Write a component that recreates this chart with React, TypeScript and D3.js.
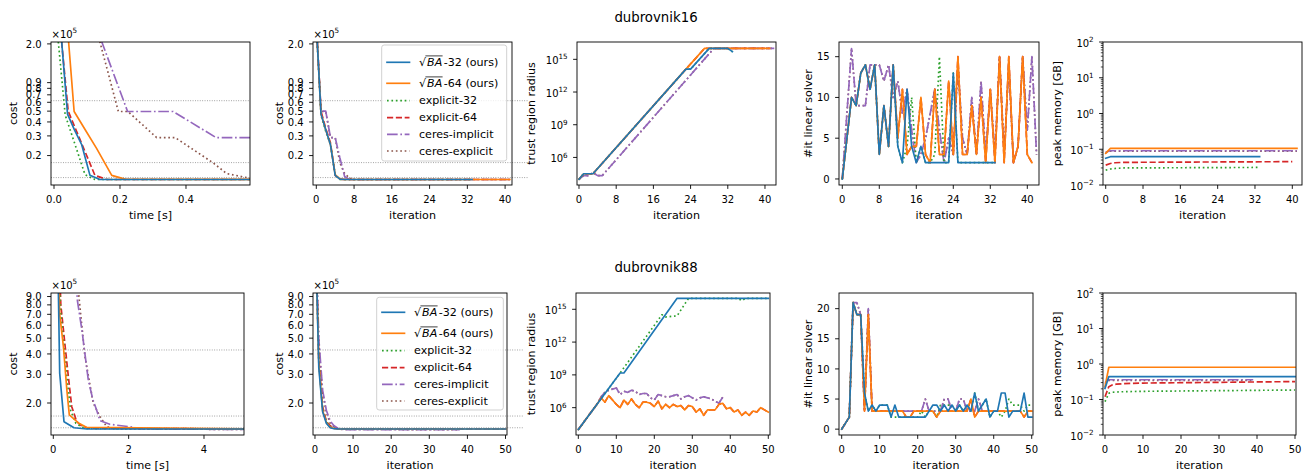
import React from "react";
import * as d3 from "d3";

type Pt = [number, number];

// ---------------- series styling (legend order) ----------------
const seriesKeys = ["s32", "s64", "e32", "e64", "ci", "ce"];
const seriesLabels = ["-32 (ours)", "-64 (ours)", "explicit-32", "explicit-64", "ceres-implicit", "ceres-explicit"];
const seriesColors = ["#1f77b4", "#ff7f0e", "#2ca02c", "#d62728", "#9467bd", "#8c564b"];
const seriesDash = ["", "", "1.67,2.75", "6.17,2.67", "10.67,2.67,1.67,2.67", "1.67,2.75"];
const LW = 1.67;

// ---------------- dubrovnik16 ----------------
// cost (x1e5) vs time [s]
const d16TimeS32 = [0.019, 0.041, 0.062, 0.084, 0.109, 0.139, 0.7];
const d16CostTS32 = [3.0, 0.47, 0.34, 0.25, 0.133, 0.122, 0.122];
const d16TimeS64 = [0.04, 0.061, 0.095, 0.129, 0.175, 0.215, 0.9];
const d16CostTS64 = [3.0, 0.496, 0.339, 0.232, 0.133, 0.123, 0.122];
const d16TimeE32 = [0.008, 0.034, 0.064, 0.094, 0.124, 0.7];
const d16CostTE32 = [3.0, 0.46, 0.25, 0.135, 0.122, 0.122];
const d16TimeE64 = [0.018, 0.043, 0.083, 0.124, 0.16, 0.8];
const d16CostTE64 = [3.0, 0.5, 0.26, 0.133, 0.122, 0.122];
const d16TimeCI = [0.125, 0.223, 0.361, 0.491, 0.75];
const d16CostTCI = [3.0, 0.496, 0.496, 0.29, 0.29];
const d16TimeCE = [0.125, 0.195, 0.224, 0.311, 0.367, 0.483, 0.523, 0.589, 0.62, 0.9];
const d16CostTCE = [3.0, 0.496, 0.496, 0.29, 0.29, 0.1715, 0.138, 0.126, 0.122, 0.122];
// cost (x1e5) vs iteration  [iteration, cost]
const d16CostIS32: Pt[] = [[0, 3.0], [1, 0.47], [2, 0.34], [3, 0.25], [4, 0.133], [5, 0.123], [6, 0.122], [33, 0.122]];
const d16CostIS64: Pt[] = [[0, 3.0], [1, 0.47], [2, 0.34], [3, 0.25], [4, 0.135], [5, 0.123], [6, 0.122], [41, 0.122]];
const d16CostIE32: Pt[] = [[0, 3.0], [1, 0.46], [2, 0.33], [3, 0.25], [4, 0.135], [5, 0.122], [33, 0.122]];
const d16CostIE64: Pt[] = [[0, 3.0], [1, 0.5], [2, 0.35], [3, 0.26], [4, 0.133], [5, 0.123], [6, 0.122], [41, 0.122]];
const d16CostICI: Pt[] = [[0, 3.0], [1, 0.5], [2, 0.5], [3, 0.29], [4, 0.29], [5, 0.19], [6, 0.13], [7, 0.122], [41, 0.122]];
const d16CostICE: Pt[] = [[0, 3.0], [1, 0.496], [2, 0.496], [3, 0.29], [4, 0.29], [5, 0.1715], [6, 0.138], [7, 0.126], [8, 0.122], [41, 0.122]];
// log10(trust region radius) vs iteration
const d16TrS32: Pt[] = [[0, 4.0], [1, 4.5], [3, 4.5], [23, 14.1], [24, 14.1], [28, 16.0], [32, 16.0], [33, 15.7]];
const d16TrS64: Pt[] = [[0, 4.0], [1, 4.5], [3, 4.5], [23, 14.1], [27, 16.0], [41, 16.0]];
const d16TrE32: Pt[] = [[0, 4.0], [1, 4.5], [3, 4.5], [23, 14.1], [24, 14.1], [28, 16.0], [32, 16.0], [33, 15.7]];
const d16TrE64: Pt[] = [[0, 4.0], [1, 4.5], [3, 4.5], [23, 14.1], [27, 16.0], [41, 16.0]];
const d16TrCI: Pt[] = [[0, 4.0], [1, 4.33], [2, 4.33], [3, 4.6], [4, 4.33], [5, 4.33], [29, 16.0], [42, 16.0]];
const d16TrCE: Pt[] = [[0, 4.0], [1, 4.33], [2, 4.33], [3, 4.6], [4, 4.33], [5, 4.33], [29, 16.0], [42, 16.0]];
// linear solver iterations per iteration
const d16LinS32 = [0, 5, 10, 9, 13, 14, 11, 14, 3, 9, 4, 14, 4, 2, 11, 4, 2, 4, 2, 2, 2, 2, 2, 2, 13, 2, 2, 2, 2, 2, 2, 2, 2, 2];
const d16LinS64 = [0, 5, 10, 9, 13, 14, 11, 14, 3, 9, 4, 14, 5, 11, 3, 4, 4, 10, 3, 2, 11, 3, 3, 12, 3, 15, 3, 3, 9, 3, 10, 2, 11, 2, 15, 2, 15, 2, 4, 15, 3, 2];
const d16LinE32 = [0, 5, 10, 9, 13, 14, 11, 14, 3, 9, 4, 14, 4, 2, 4, 10, 2, 4, 2, 2, 3, 15, 2, 2, 13, 2, 2, 2, 2, 2, 2, 2, 2, 2];
const d16LinE64 = [0, 5, 10, 9, 13, 14, 11, 14, 3, 9, 4, 14, 5, 11, 3, 4, 4, 10, 3, 2, 11, 3, 3, 12, 3, 15, 3, 3, 9, 3, 10, 2, 11, 2, 15, 2, 15, 2, 4, 15, 3, 2];
const d16LinCI = [0, 8, 16, 9, 9, 9, 14, 14, 14, 12, 14, 10, 12, 8, 11, 6, 2, 3, 5, 8, 11, 6, 2, 5, 3, 14, 5, 3, 10, 3, 12, 3, 11, 3, 15, 3, 14, 2, 4, 15, 6, 15, 3];
const d16LinCE = [0, 8, 16, 9, 9, 9, 14, 14, 14, 12, 14, 10, 12, 8, 11, 6, 2, 3, 5, 8, 11, 6, 2, 5, 3, 14, 5, 3, 10, 3, 12, 3, 11, 3, 15, 3, 14, 2, 4, 15, 6, 15, 3];
// peak memory [GB]
const d16MemS32: Pt[] = [[0, 0.056], [1, 0.062], [33, 0.062]];
const d16MemS64: Pt[] = [[0, 0.077], [1, 0.106], [41, 0.106]];
const d16MemE32: Pt[] = [[0, 0.026], [1, 0.028], [2, 0.029], [4, 0.03], [33, 0.031]];
const d16MemE64: Pt[] = [[0, 0.036], [1, 0.04], [2, 0.042], [4, 0.043], [40, 0.045]];
const d16MemCI: Pt[] = [[0, 0.083], [1, 0.091], [41, 0.091]];
const d16MemCE: Pt[] = [[0, 0.08], [1, 0.089], [41, 0.089]];

// ---------------- dubrovnik88 ----------------
const d88TimeS32 = [0.1, 0.17, 0.284, 0.55, 0.89, 5.3];
const d88CostTS32 = [30, 3.04, 1.536, 1.41, 1.386, 1.386];
const d88TimeS64 = [0.1, 0.17, 0.27, 0.36, 0.425, 0.667, 0.88, 5.3];
const d88CostTS64 = [30, 7.0, 4.4, 2.4, 1.69, 1.51, 1.42, 1.386];
const d88TimeE32 = [0.11, 0.19, 0.28, 0.38, 0.46, 0.6, 0.75, 0.9, 5.3];
const d88CostTE32 = [30, 7.5, 4.5, 2.6, 1.8, 1.5, 1.43, 1.395, 1.386];
const d88TimeE64 = [0.12, 0.2, 0.3, 0.4, 0.49, 0.62, 0.75, 0.93, 5.3];
const d88CostTE64 = [30, 8.0, 4.8, 2.9, 1.9, 1.54, 1.45, 1.4, 1.386];
const d88TimeCI = [0.5, 0.64, 0.76, 0.84, 0.93, 1.05, 1.15, 1.24, 1.5, 2.04, 2.3, 5.3];
const d88CostTCI = [30, 8.5, 5.6, 4.0, 2.76, 2.1, 1.81, 1.56, 1.48, 1.43, 1.39, 1.375];
const d88TimeCE = [0.55, 0.68, 0.84, 1.06, 1.24, 1.42, 1.68, 5.3];
const d88CostTCE = [30, 9.0, 3.85, 2.0, 1.65, 1.43, 1.39, 1.375];
const d88CostIS32: Pt[] = [[0, 30], [1, 3.3], [2, 1.77], [3, 1.5], [4, 1.41], [5, 1.39], [6, 1.387], [50, 1.386]];
const d88CostIS64: Pt[] = [[0, 30], [1, 3.5], [2, 1.8], [3, 1.52], [4, 1.42], [5, 1.395], [6, 1.388], [50, 1.386]];
const d88CostIE32: Pt[] = [[0, 30], [1, 3.6], [2, 1.85], [3, 1.53], [4, 1.43], [5, 1.4], [6, 1.39], [50, 1.386]];
const d88CostIE64: Pt[] = [[0, 30], [1, 3.7], [2, 1.9], [3, 1.54], [4, 1.45], [5, 1.4], [6, 1.39], [50, 1.386]];
const d88CostICI: Pt[] = [[0, 30], [1, 5.0], [2, 2.4], [3, 1.8], [4, 1.55], [5, 1.45], [6, 1.4], [7, 1.38], [8, 1.375], [38, 1.372]];
const d88CostICE: Pt[] = [[0, 30], [1, 4.6], [2, 2.3], [3, 1.75], [4, 1.5], [5, 1.43], [6, 1.39], [7, 1.378], [38, 1.372]];
const d88TrS32: Pt[] = [[0, 4.0], [11, 9.17], [12, 9.17], [26, 16.0], [50, 16.0]];
const d88TrE32: Pt[] = [[0, 4.0], [11, 9.17], [22, 14.5], [23, 14.3], [26, 14.4], [29, 16.0], [42, 16.0], [43, 15.8], [44, 16.0], [50, 16.0]];
const d88TrS64 = [4.0, 4.47, 4.94, 5.41, 5.88, 6.35, 6.9, 6.5, 7.1, 6.7, 6.3, 6.0, 6.7, 6.3, 6.8, 6.3, 6.0, 6.5, 6.5, 6.4, 6.1, 6.6, 5.9, 6.3, 6.0, 6.3, 6.1, 6.2, 5.8, 6.2, 6.1, 5.6, 5.9, 5.3, 5.8, 5.8, 5.8, 6.3, 6.4, 5.9, 6.0, 5.6, 5.8, 5.3, 5.6, 5.3, 5.7, 5.6, 6.0, 5.8, 5.6];
const d88TrE64 = [4.0, 4.47, 4.94, 5.41, 5.88, 6.35, 6.9, 6.5, 7.1, 6.7, 6.3, 6.0, 6.7, 6.3, 6.8, 6.3, 6.0, 6.5, 6.5, 6.4, 6.1, 6.6, 5.9, 6.3, 6.0, 6.3, 6.1, 6.2, 5.8, 6.2, 6.1, 5.6, 5.9, 5.3, 5.8, 5.8, 5.8, 6.3, 6.4, 5.9, 6.0, 5.6, 5.8, 5.3, 5.6, 5.3, 5.7, 5.6, 6.0, 5.8, 5.6];
const d88TrCI = [4.0, 4.47, 4.94, 5.41, 5.88, 6.35, 7.0, 7.4, 7.6, 7.7, 7.8, 7.2, 7.5, 7.4, 7.6, 7.5, 7.2, 7.3, 7.3, 6.9, 6.7, 7.2, 7.1, 7.0, 7.0, 7.1, 7.2, 6.8, 7.0, 7.1, 6.9, 6.7, 6.9, 7.0, 6.9, 6.8, 6.6, 6.4, 6.95];
const d88TrCE = [4.0, 4.47, 4.94, 5.41, 5.88, 6.35, 7.0, 7.4, 7.6, 7.7, 7.8, 7.2, 7.5, 7.4, 7.6, 7.5, 7.2, 7.3, 7.3, 6.9, 6.7, 7.2, 7.1, 7.0, 7.0, 7.1, 7.2, 6.8, 7.0, 7.1, 6.9, 6.7, 6.9, 7.0, 6.9, 6.8, 6.6, 6.4, 6.95];
const d88LinS32 = [0, 1, 2, 21, 19, 19, 6, 3, 4, 3, 4, 4, 4, 2, 4, 2, 2, 2, 2, 2, 2, 2, 2, 3, 4, 4, 3, 4, 3, 4, 3, 4, 3, 4, 3, 6, 3, 4, 5, 2, 3, 3, 6, 6, 2, 3, 3, 3, 6, 2, 2];
const d88LinS64 = [0, 1, 2, 21, 19, 19, 3, 19, 3, 3, 3, 3, 3, 3, 3, 3, 3, 2, 2, 3, 3, 3, 3, 3, 3, 2, 3, 3, 3, 3, 3, 3, 3, 3, 5, 2, 3, 3, 3, 3, 3, 3, 3, 3, 3, 3, 3, 3, 2, 3, 3];
const d88LinE32 = [0, 1, 2, 21, 19, 19, 6, 3, 4, 3, 4, 4, 4, 2, 2, 2, 2, 2, 2, 2, 2, 3, 2, 3, 3, 2, 4, 4, 4, 4, 3, 4, 3, 4, 3, 6, 3, 4, 5, 2, 3, 3, 2, 3, 5, 4, 4, 4, 3, 4, 4];
const d88LinE64 = [0, 1, 2, 21, 19, 19, 3, 19, 3, 3, 3, 3, 3, 3, 3, 3, 3, 2, 2, 3, 3, 3, 3, 3, 3, 2, 3, 3, 3, 3, 3, 3, 3, 3, 5, 2, 3, 3, 3, 3, 3, 3, 3, 3, 3, 3, 3, 3, 2, 3, 3];
const d88LinCI = [0, 1, 2, 21, 21, 19, 3, 20, 3, 3, 3, 3, 3, 3, 3, 3, 3, 3, 3, 3, 3, 3, 5, 3, 3, 3, 3, 5, 5, 3, 3, 5, 5, 3, 3, 3, 5, 3];
const d88LinCE = [0, 1, 2, 21, 21, 19, 3, 20, 3, 3, 3, 3, 3, 3, 3, 3, 3, 3, 3, 3, 3, 3, 5, 3, 3, 3, 3, 5, 5, 3, 3, 5, 5, 3, 3, 3, 5, 3];
const d88MemS32: Pt[] = [[0, 0.206], [1, 0.44], [50, 0.44]];
const d88MemS64: Pt[] = [[0, 0.23], [1, 0.81], [50, 0.81]];
const d88MemE32: Pt[] = [[0, 0.087], [1, 0.15], [2, 0.16], [4, 0.165], [10, 0.17], [50, 0.185]];
const d88MemE64: Pt[] = [[0, 0.12], [1, 0.23], [2, 0.26], [3, 0.27], [5, 0.28], [10, 0.29], [50, 0.32]];
const d88MemCI: Pt[] = [[0, 0.3], [1, 0.36], [39, 0.36]];
const d88MemCE: Pt[] = [[0, 0.28], [1, 0.345], [39, 0.345]];

// reference (threshold) levels on cost axes, x1e5
const d16CostRefs = [0.62, 0.173, 0.127];
const d88CostRefs = [4.23, 1.664, 1.41];

// ticks
const costTicks16 = [0.2, 0.3, 0.4, 0.5, 0.6, 0.7, 0.8, 0.9, 2.0];
const costTicks88 = [2, 3, 4, 5, 6, 7, 8, 9];
const trExpTicks = [6, 9, 12, 15];
const memExpTicks = [-2, -1, 0, 1, 2];
const linTicks16 = [0, 5, 10, 15];
const linTicks88 = [0, 5, 10, 15, 20];
const iterTicks16 = [0, 8, 16, 24, 32, 40];
const iterTicks88 = [0, 10, 20, 30, 40, 50];
const timeTicks16 = [0, 0.2, 0.4];
const timeTicks88 = [0, 2, 4];
const titles = ["dubrovnik16", "dubrovnik88"];

// ---------------- helpers ----------------
const idxPts = (v: number[]): Pt[] => v.map((y, i) => [i, y]);
const zipPts = (xs: number[], ys: number[]): Pt[] => xs.map((x, i) => [x, ys[i]]);
const pow10 = (p: Pt[]): Pt[] => p.map(([x, l]) => [x, Math.pow(10, l)]);
const asPts = (v: number[] | Pt[]): Pt[] => (typeof v[0] === "number" ? idxPts(v as number[]) : (v as Pt[]));

const FONT = "'DejaVu Sans', 'Liberation Sans', sans-serif";

interface YTick { v: number; label: any; minor?: boolean }
interface PanelSpec {
  left: number; right: number; top: number; bottom: number;
  xDomain: [number, number]; xTicks: number[]; xFmt: (v: number) => string; xLabel: string;
  yLog: boolean; yDomain: [number, number]; yTicks: YTick[]; yMinor?: number[]; yLabel: string; yLabelX: number;
  series: Pt[][]; refs?: number[]; refExtend?: number; offset?: boolean; legend?: { box: number[]; rows: number[]; hx: number[]; tx: number };
}

const sup = (base: string, e: string) => (
  <>
    {base}
    <tspan dy={-4.5} fontSize={7.2}>{e}</tspan>
  </>
);

const fmt1 = (v: number) => v.toFixed(1);
const fmt0 = (v: number) => String(v);

const memMinor: number[] = [];
[-2, -1, 0, 1].forEach((k) => [2, 3, 4, 5, 6, 7, 8, 9].forEach((m) => memMinor.push(m * Math.pow(10, k))));

function buildPanels(): PanelSpec[] {
  const rows = [
    { top: 42, bottom: 185, lefts: [51, 313, 577, 839, 1103], rights: [250, 512, 776, 1039, 1302] },
    { top: 293, bottom: 435, lefts: [51, 313, 576, 839, 1103], rights: [244, 507, 770, 1033, 1296] },
  ];
  const xDom16: [number, number][] = [[-0.0091, 0.594], [-0.7, 41.46], [-0.43, 42.37], [-0.71, 42.53], [-0.58, 42.08]];
  const xDom88: [number, number][] = [[-0.061, 5.062], [-0.52, 50.39], [-0.61, 50.45], [-0.71, 50.34], [-0.53, 50.26]];
  const yLabX = [[17.3, 282.7, 535, 811.5, 1060.5], [17.3, 282.7, 535, 811.5, 1061]];
  const legends = [
    { box: [381.7, 45, 506.7, 161], rows: [62.3, 83.3, 100.7, 117.7, 134.3, 151], hx: [387, 409.5], tx: 419 },
    { box: [376.7, 297.3, 503.3, 410], rows: [312.3, 333.3, 350.7, 367.7, 384.3, 401], hx: [382, 404.5], tx: 414 },
  ];
  const sets = [
    {
      time: [zipPts(d16TimeS32, d16CostTS32), zipPts(d16TimeS64, d16CostTS64), zipPts(d16TimeE32, d16CostTE32), zipPts(d16TimeE64, d16CostTE64), zipPts(d16TimeCI, d16CostTCI), zipPts(d16TimeCE, d16CostTCE)],
      iter: [d16CostIS32, d16CostIS64, d16CostIE32, d16CostIE64, d16CostICI, d16CostICE],
      tr: [d16TrS32, d16TrS64, d16TrE32, d16TrE64, d16TrCI, d16TrCE].map((s) => pow10(asPts(s))),
      lin: [d16LinS32, d16LinS64, d16LinE32, d16LinE64, d16LinCI, d16LinCE].map(idxPts),
      mem: [d16MemS32, d16MemS64, d16MemE32, d16MemE64, d16MemCI, d16MemCE],
      refs: d16CostRefs,
      costDom: [0.109, 2.08] as [number, number],
      costTicks: costTicks16.map((v) => ({ v, label: fmt1(v) })),
      trDom: [Math.pow(10, 3.47), Math.pow(10, 16.59)] as [number, number],
      linDom: [-0.74, 16.8] as [number, number],
      linTicks: linTicks16,
      iterTicks: iterTicks16,
      timeTicks: timeTicks16,
      timeFmt: fmt1,
      xDom: xDom16,
    },
    {
      time: [zipPts(d88TimeS32, d88CostTS32), zipPts(d88TimeS64, d88CostTS64), zipPts(d88TimeE32, d88CostTE32), zipPts(d88TimeE64, d88CostTE64), zipPts(d88TimeCI, d88CostTCI), zipPts(d88TimeCE, d88CostTCE)],
      iter: [d88CostIS32, d88CostIS64, d88CostIE32, d88CostIE64, d88CostICI, d88CostICE],
      tr: [d88TrS32, d88TrS64, d88TrE32, d88TrE64, d88TrCI, d88TrCE].map((s) => pow10(asPts(s as any))),
      lin: [d88LinS32, d88LinS64, d88LinE32, d88LinE64, d88LinCI, d88LinCE].map(idxPts),
      mem: [d88MemS32, d88MemS64, d88MemE32, d88MemE64, d88MemCI, d88MemCE],
      refs: d88CostRefs,
      costDom: [1.273, 9.46] as [number, number],
      costTicks: costTicks88.map((v) => ({ v, label: fmt1(v) })),
      trDom: [Math.pow(10, 3.5), Math.pow(10, 16.49)] as [number, number],
      linDom: [-0.97, 22.6] as [number, number],
      linTicks: linTicks88,
      iterTicks: iterTicks88,
      timeTicks: timeTicks88,
      timeFmt: fmt0,
      xDom: xDom88,
    },
  ];
  const out: PanelSpec[] = [];
  sets.forEach((s, r) => {
    const R = rows[r];
    const base = (c: number) => ({ left: R.lefts[c], right: R.rights[c], top: R.top, bottom: R.bottom, xDomain: s.xDom[c], yLabelX: yLabX[r][c] });
    out.push({
      ...base(0), xTicks: s.timeTicks, xFmt: s.timeFmt, xLabel: "time [s]",
      yLog: true, yDomain: s.costDom, yTicks: s.costTicks, yLabel: "cost",
      series: s.time, refs: s.refs, refExtend: 0, offset: true,
    });
    out.push({
      ...base(1), xTicks: s.iterTicks, xFmt: fmt0, xLabel: "iteration",
      yLog: true, yDomain: s.costDom, yTicks: s.costTicks, yLabel: "cost",
      series: s.iter, refs: s.refs, refExtend: 16, offset: true, legend: legends[r],
    });
    out.push({
      ...base(2), xTicks: s.iterTicks, xFmt: fmt0, xLabel: "iteration",
      yLog: true, yDomain: s.trDom, yTicks: trExpTicks.map((e) => ({ v: Math.pow(10, e), label: sup("10", String(e)) })),
      yLabel: "trust region radius", series: s.tr,
    });
    out.push({
      ...base(3), xTicks: s.iterTicks, xFmt: fmt0, xLabel: "iteration",
      yLog: false, yDomain: s.linDom, yTicks: s.linTicks.map((v) => ({ v, label: String(v) })),
      yLabel: "#it linear solver", series: s.lin,
    });
    out.push({
      ...base(4), xTicks: s.iterTicks, xFmt: fmt0, xLabel: "iteration",
      yLog: true, yDomain: [0.01, 100], yTicks: memExpTicks.map((e) => ({ v: Math.pow(10, e), label: sup("10", e < 0 ? "\u2212" + Math.abs(e) : String(e)) })),
      yMinor: memMinor, yLabel: "peak memory [GB]", series: s.mem,
    });
  });
  return out;
}

function Legend({ spec }: { spec: { box: number[]; rows: number[]; hx: number[]; tx: number } }) {
  const [x0, y0, x1, y1] = spec.box;
  return (
    <g>
      <rect x={x0} y={y0} width={x1 - x0} height={y1 - y0} rx={2.5} fill="#ffffff" fillOpacity={0.8} stroke="#cccccc" strokeWidth={0.9} />
      {seriesKeys.map((k, i) => {
        const cy = spec.rows[i];
        const by = cy + 3.6;
        return (
          <g key={k}>
            <line x1={spec.hx[0]} x2={spec.hx[1]} y1={cy} y2={cy} stroke={seriesColors[i]} strokeWidth={LW}
              strokeDasharray={seriesDash[i] || undefined} strokeLinecap={seriesDash[i] ? "butt" : "square"} />
            {i < 2 ? (
              <g>
                <line x1={spec.tx + 6.4} x2={spec.tx + 23.6} y1={by - 10} y2={by - 10} stroke="#000" strokeWidth={0.75} />
                <text x={spec.tx} y={by} fontSize={11.1} fill="#000">
                  {"\u221A"}
                  <tspan dx={1} fontStyle="italic">BA</tspan>
                  <tspan dx={1.5}>{seriesLabels[i]}</tspan>
                </text>
              </g>
            ) : (
              <text x={spec.tx} y={by} fontSize={11.1} fill="#000">{seriesLabels[i]}</text>
            )}
          </g>
        );
      })}
    </g>
  );
}

function Panel({ p, id }: { p: PanelSpec; id: number }) {
  const xs = d3.scaleLinear().domain(p.xDomain).range([p.left, p.right]);
  const ys: any = (p.yLog ? d3.scaleLog() : d3.scaleLinear()).domain(p.yDomain).range([p.bottom, p.top]);
  const line = d3.line<Pt>().x((d) => xs(d[0])).y((d) => ys(d[1]));
  const clip = `clip-panel-${id}`;
  const order = [5, 4, 3, 2, 1, 0];
  const cy = (p.top + p.bottom) / 2;
  return (
    <g>
      <defs>
        <clipPath id={clip}>
          <rect x={p.left} y={p.top} width={p.right - p.left} height={p.bottom - p.top} />
        </clipPath>
      </defs>
      {(p.refs || []).map((r, i) => (
        <line key={"ref" + i} x1={p.left} x2={p.right + (p.refExtend || 0)} y1={ys(r)} y2={ys(r)} stroke="#808080" strokeWidth={0.8} strokeDasharray="0.9,1.5" />
      ))}
      <g clipPath={`url(#${clip})`}>
        {order.map((i) =>
          p.series[i] ? (
            <path key={i} d={line(p.series[i]) || ""} fill="none" stroke={seriesColors[i]} strokeWidth={LW}
              strokeDasharray={seriesDash[i] || undefined} strokeLinejoin="round" strokeLinecap={seriesDash[i] ? "butt" : "square"} />
          ) : null
        )}
      </g>
      <rect x={p.left} y={p.top} width={p.right - p.left} height={p.bottom - p.top} fill="none" stroke="#000" strokeWidth={0.9} />
      {/* x ticks */}
      {p.xTicks.map((t) => (
        <g key={"xt" + t}>
          <line x1={xs(t)} x2={xs(t)} y1={p.bottom} y2={p.bottom + 3.9} stroke="#000" strokeWidth={0.9} />
          <text x={xs(t)} y={p.bottom + 18.3} fontSize={10} textAnchor="middle" fill="#000">{p.xFmt(t)}</text>
        </g>
      ))}
      {/* y minor ticks */}
      {(p.yMinor || []).map((t, i) => (
        <line key={"ym" + i} x1={p.left - 2.2} x2={p.left} y1={ys(t)} y2={ys(t)} stroke="#000" strokeWidth={0.7} />
      ))}
      {/* y ticks */}
      {p.yTicks.map((t, i) => (
        <g key={"yt" + i}>
          <line x1={p.left - 3.9} x2={p.left} y1={ys(t.v)} y2={ys(t.v)} stroke="#000" strokeWidth={0.9} />
          <text x={p.left - 9.3} y={ys(t.v) + (typeof t.label === "string" ? 3.6 : 4.6)} fontSize={10} textAnchor="end" fill="#000">{t.label}</text>
        </g>
      ))}
      {p.offset ? (
        <text x={p.left + 0.5} y={p.top - 4.5} fontSize={10} fill="#000">
          {"\u00D710"}
          <tspan dy={-4.5} fontSize={7.2}>5</tspan>
        </text>
      ) : null}
      <text x={(p.left + p.right) / 2} y={p.bottom + 33.5} fontSize={11.1} textAnchor="middle" fill="#000">{p.xLabel}</text>
      <text transform={`translate(${p.yLabelX},${cy}) rotate(-90)`} fontSize={11.1} textAnchor="middle" fill="#000">{p.yLabel}</text>
      {p.legend ? <Legend spec={p.legend} /> : null}
    </g>
  );
}

export default function App() {
  const panels = buildPanels();
  return (
    <svg width={1312} height={474} viewBox="0 0 1312 474" fontFamily={FONT}
      style={{ position: "absolute", left: 0, top: 0, background: "#ffffff" }}>
      <rect x={0} y={0} width={1312} height={474} fill="#ffffff" />
      <text x={656} y={21.5} fontSize={13.3} textAnchor="middle" fill="#000">{titles[0]}</text>
      <text x={656} y={271.5} fontSize={13.3} textAnchor="middle" fill="#000">{titles[1]}</text>
      {panels.map((p, i) => (
        <Panel key={i} p={p} id={i} />
      ))}
    </svg>
  );
}
